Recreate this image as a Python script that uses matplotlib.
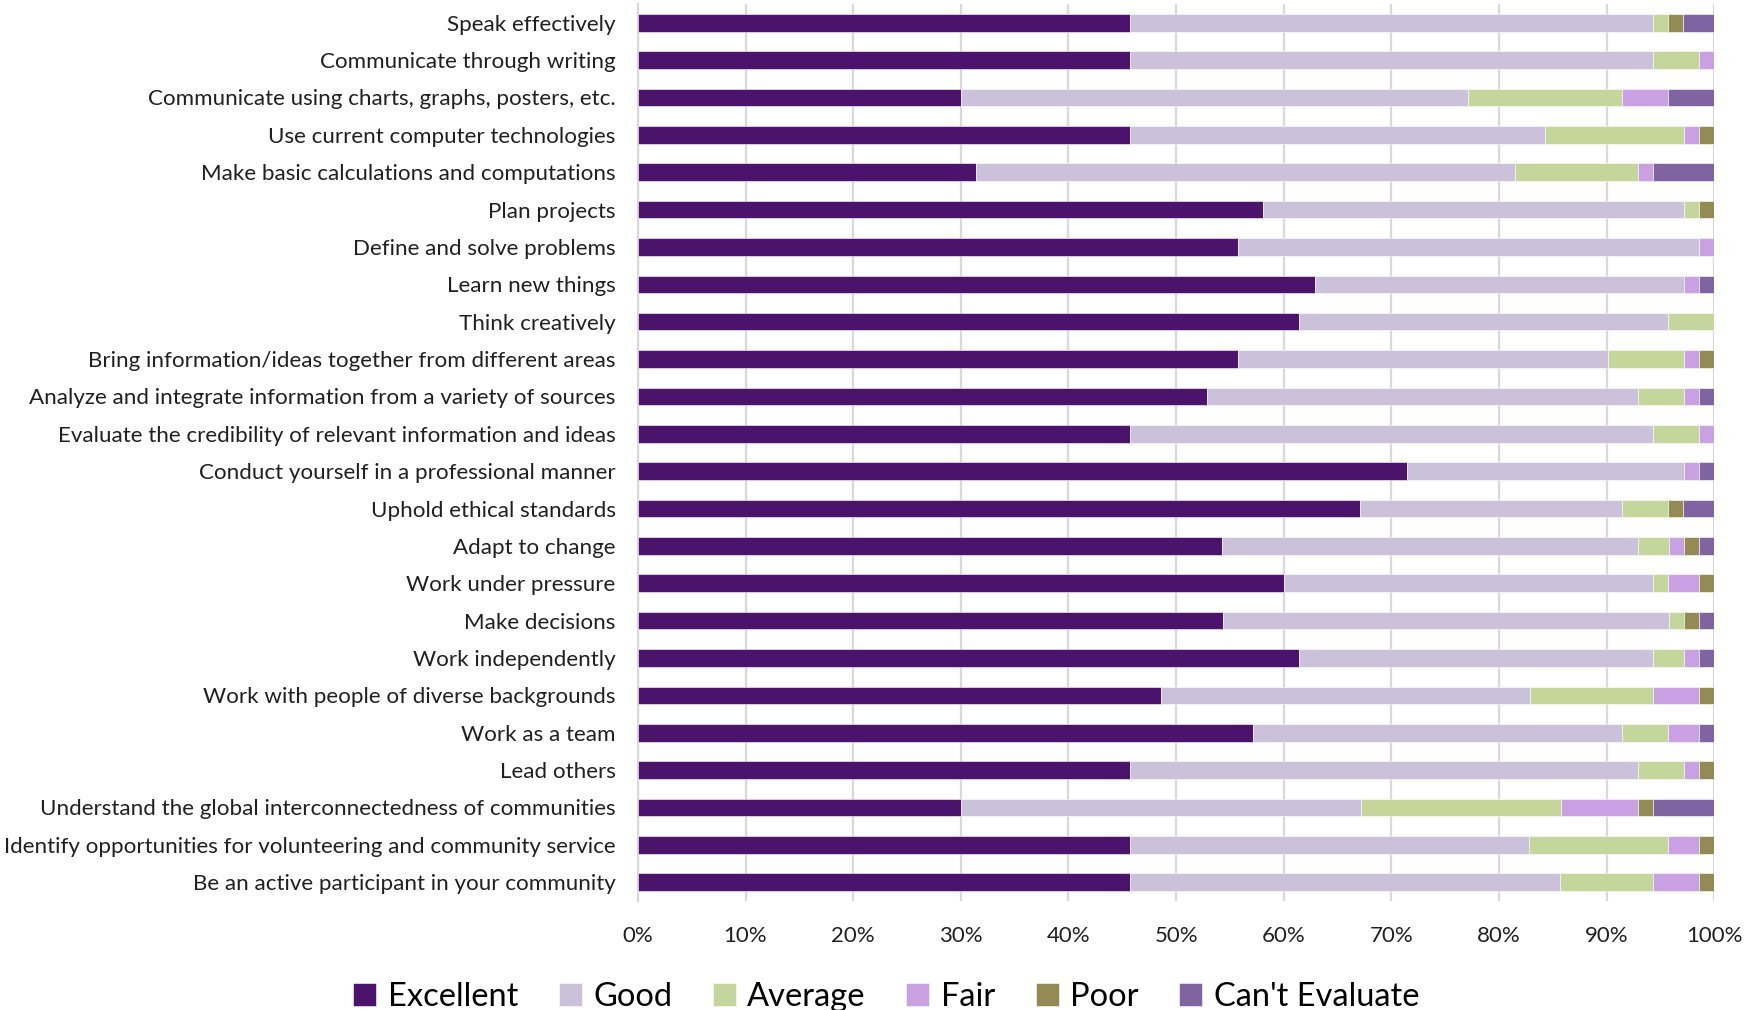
import numpy as np
import matplotlib.pyplot as plt

skills = [
    "Speak effectively",
    "Communicate through writing",
    "Communicate using charts, graphs, posters, etc.",
    "Use current computer technologies",
    "Make basic calculations and computations",
    "Plan projects",
    "Define and solve problems",
    "Learn new things",
    "Think creatively",
    "Bring information/ideas together from different areas",
    "Analyze and integrate information from a variety of sources",
    "Evaluate the credibility of relevant information and ideas",
    "Conduct yourself in a professional manner",
    "Uphold ethical standards",
    "Adapt to change",
    "Work under pressure",
    "Make decisions",
    "Work independently",
    "Work with people of diverse backgrounds",
    "Work as a team",
    "Lead others",
    "Understand the global interconnectedness of communities",
    "Identify opportunities for volunteering and community service",
    "Be an active participant in your community",
]

# percent of respondents per rating
excellent = [45.7, 45.7, 30.0, 45.7, 31.4, 58.0, 55.7, 62.9, 61.4, 55.7, 52.9, 45.7,
             71.4, 67.1, 54.3, 60.0, 54.3, 61.4, 48.6, 57.1, 45.7, 30.0, 45.7, 45.7]
good = [48.6, 48.6, 47.1, 38.6, 50.0, 39.1, 42.9, 34.3, 34.3, 34.3, 40.0, 48.6,
        25.7, 24.3, 38.6, 34.3, 41.4, 32.9, 34.3, 34.3, 47.1, 37.1, 37.1, 40.0]
average = [1.4, 4.3, 14.3, 12.9, 11.4, 1.4, 0.0, 0.0, 4.3, 7.1, 4.3, 4.3,
           0.0, 4.3, 2.9, 1.4, 1.4, 2.9, 11.4, 4.3, 4.3, 18.6, 12.9, 8.6]
fair = [0.0, 1.4, 4.3, 1.4, 1.4, 0.0, 1.4, 1.4, 0.0, 1.4, 1.4, 1.4,
        1.4, 0.0, 1.4, 2.9, 0.0, 1.4, 4.3, 2.9, 1.4, 7.1, 2.9, 4.3]
poor = [1.4, 0.0, 0.0, 1.4, 0.0, 1.4, 0.0, 0.0, 0.0, 1.4, 0.0, 0.0,
        0.0, 1.4, 1.4, 1.4, 1.4, 0.0, 1.4, 0.0, 1.4, 1.4, 1.4, 1.4]
cant_eval = [2.9, 0.0, 4.3, 0.0, 5.7, 0.0, 0.0, 1.4, 0.0, 0.0, 1.4, 0.0,
             1.4, 2.9, 1.4, 0.0, 1.4, 1.4, 0.0, 1.4, 0.0, 5.7, 0.0, 0.0]

ratings = ["Excellent", "Good", "Average", "Fair", "Poor", "Can't Evaluate"]
colors = ["#4b136b", "#cbc1da", "#c4d69b", "#c9a0e2", "#948a54", "#8064a2"]

plt.rcParams['font.family'] = ['Lato', 'DejaVu Sans']

data = np.array([excellent, good, average, fair, poor, cant_eval], dtype=float)
data = data / data.sum(axis=0) * 100  # rows sum to 100%

fig = plt.figure(figsize=(17.62, 10.1), dpi=100)
ax = fig.add_axes([0.362, 0.108, 0.611, 0.888])

y = np.arange(len(skills))
left = np.zeros(len(skills))
for vals, name, c in zip(data, ratings, colors):
    ax.barh(y, vals, left=left, height=0.47, color=c, label=name,
            edgecolor='white', linewidth=0.4, zorder=3)
    left += vals

ax.set_xlim(0, 100)
ax.set_ylim(len(skills) - 0.5, -0.5)
ax.set_yticks(y)
ax.set_yticklabels(skills, fontsize=16.1, color='#202020')
ax.set_xticks(np.arange(0, 101, 10))
ax.set_xticklabels([f"{t}%" for t in range(0, 101, 10)], fontsize=16, color='#202020')
ax.tick_params(axis='both', length=0)
ax.tick_params(axis='y', pad=16)
ax.tick_params(axis='x', pad=18)
ax.grid(axis='x', color='#d9d9d9', linewidth=1.6, zorder=0)
for s in ['top', 'right', 'bottom']:
    ax.spines[s].set_visible(False)
ax.spines['left'].set_color('#d9d9d9')
ax.spines['left'].set_linewidth(1.6)

fig.legend(loc='center', bbox_to_anchor=(0.503, 0.013), ncol=6, frameon=False,
           fontsize=23.5, handlelength=0.7, handleheight=0.7, handletextpad=0.35,
           columnspacing=1.25)

fig.savefig('out.png', dpi=100)
